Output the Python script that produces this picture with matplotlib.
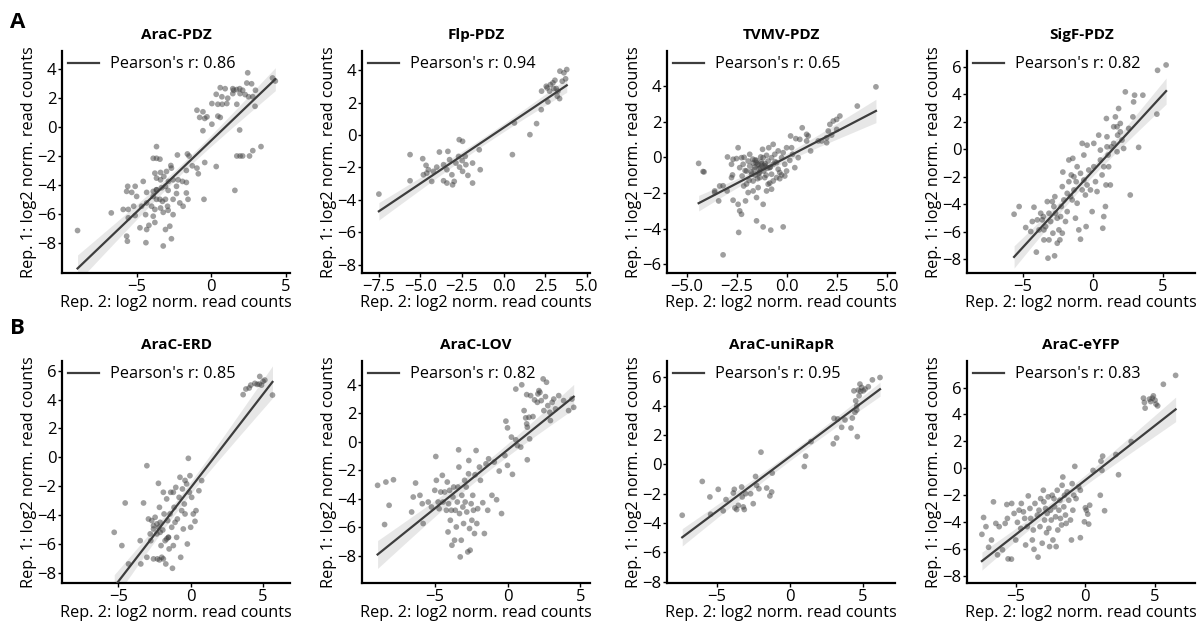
import numpy as np
import matplotlib
matplotlib.use("Agg")
import matplotlib.pyplot as plt

plt.rcParams["font.family"] = ["Open Sans", "DejaVu Sans"]

# replicate 1 vs replicate 2 log2 normalised read counts per library
arac_pdz_x = [4.29, 4.1, 2.44, 2.38, 2.7, 0.6, 0.93, 1.44, 1.5, 1.9, 2.1, 0.33, 0.71, 1.1, 1.44, 1.7,
              1.93, 2.27, 2.5, 2.78, 2.96, 1.04, 0.04, 0.44, 0.73, 1.71, 2.93, -0.96, -0.56, -0.78,
              -0.29, -0.44, 0.44, 0.6, 0.04, -0.56, 1.9, 1.93, 1.71, 2.1, 2.56, 2.78, 3.33, 1.58,
              0.33, -0.44,
              -3.67, -3.89, -3.67, -3.44, -2.27, -1.6, -1.49, -1.27, -0.96, -0.87, -1.67, -2.71,
              -2.67, -3.0, -3.4, -3.78, -3.67, -3.4, -3.18, -2.87, -2.56, -2.22, -1.67, -1.93,
              -4.56, -5.1, -5.6, -5.67, -5.33, -5.0, -4.33, -3.89, -3.67, -3.33, -3.07, -2.89,
              -2.33, -3.89, -3.67, -3.27, -4.33, -4.67, -4.0, -3.78, -3.4, -2.93, -2.56, -2.33,
              -1.67, -1.56, -2.11, -1.89, -2.89, -2.56, -3.22, -3.89, -4.4, -5.1, -5.56, -5.9,
              -5.56, -6.7, -5.2, -4.78, -4.33, -4.18, -3.78, -3.07, -2.78, -2.67, -3.22, -4.38,
              -5.67, -5.62, -8.96, -0.49, -3.67, -3.44, -3.07]
arac_pdz_y = [3.19, 3.4, 3.76, 3.05, 3.0, 2.73, 2.66, 2.66, 2.55, 2.66, 2.55, 2.27, 2.1, 2.0, 2.32, 2.6,
              2.32, 2.25, 2.1, 2.1, 2.55, 1.63, 1.63, 1.58, 1.58, 1.58, 1.44, 1.17, 1.06, 0.67,
              0.71, 0.6, 0.76, 0.67, 0.2, -0.25, -0.2, -2.0, -2.0, -2.0, -2.0, -1.63, -1.35, -4.38,
              -2.73, -2.45,
              -1.35, -2.16, -2.16, -2.22, -1.93, -1.86, -2.0, -2.68, -2.84, -3.23, -3.0, -2.66,
              -2.84, -3.07, -3.14, -3.19, -3.53, -3.65, -3.42, -3.76, -3.65, -3.65, -3.83, -3.76,
              -3.76, -4.1, -4.1, -4.45, -4.52, -4.8, -4.52, -4.45, -4.34, -4.2, -4.1, -4.38,
              -4.1, -4.8, -5.0, -5.14, -5.25, -5.48, -5.48, -5.7, -5.6, -5.48, -5.0, -4.6,
              -4.56, -5.0, -5.25, -5.48, -5.76, -6.06, -5.9, -6.17, -6.06, -6.12, -6.28, -5.7,
              -5.7, -5.94, -5.48, -6.97, -7.09, -6.8, -6.6, -7.09, -6.86, -7.73, -8.23, -8.0,
              -7.55, -7.9, -7.16, -5.0, -4.34, -5.0, -5.0]

flp_pdz_x = [-7.49, -5.62, -5.62, -4.86, -4.66, -4.82, -4.52, -4.62, -4.32, -4.02, -3.86, -3.35, -3.61,
             -3.41, -3.61, -3.41, -3.11, -3.07, -2.97, -2.87, -2.71, -2.67, -2.47, -2.65, -2.47,
             -2.49, -2.31, -2.15, -1.87, -1.87, -1.47, -1.41, -3.25, -4.22, -2.27, 0.52, 0.64, 1.57,
             1.97, 2.25, 2.27, 2.55, 2.65, 2.75, 2.95, 3.07, 3.15, 3.21, 3.35, 3.25, 3.51, 3.61,
             3.78, 3.37, 3.71, 3.0, 2.8, 2.6]
flp_pdz_y = [-3.64, -1.21, -2.82, -1.46, -1.87, -2.45, -2.14, -2.35, -2.86, -1.98, -1.05, -1.01, -1.83,
             -2.14, -2.82, -2.96, -2.45, -3.07, -2.86, -1.73, -1.32, -0.29, -0.39, -1.98, -2.24,
             -1.58, -1.32, -2.49, -1.73, -2.96, -0.91, -2.14, -1.52, -2.24, -1.83, -1.21, 0.74, 0.02,
             0.7, 1.56, 2.7, 3.0, 2.04, 2.7, 3.21, 3.37, 2.86, 2.39, 2.24, 2.7, 3.31, 3.83,
             4.03, 3.93, 3.46, 2.86, 3.1, 2.9]

tvmv_pdz_x = [-4.42, -4.2, -4.15, -3.62, -3.37, -3.2, -2.98, -2.78, -2.73, -2.53, -2.45, -2.28, -2.15,
              -2.37, -2.25, -2.17, -2.03, -1.95, -1.87, -1.78, -1.7, -1.62, -1.53, -1.45, -1.4, -1.32,
              -1.28, -1.2, -1.17, -1.08, -1.03, -0.95, -0.92, -0.87, -0.78, -0.78, -0.7, -0.62, -0.53,
              -0.45, -0.37, -0.28, -0.2, -0.12, -0.03, 0.13, 0.22, 0.27, 0.38, 0.55, 0.17, 0.43, 0.63,
              0.97, 1.05, 0.75, 0.97, 1.17, 1.55, 1.72, 1.97, 2.05, 2.13, 1.97, 2.3, 2.47, 2.63, 2.47,
              2.22, 3.5, 4.43, -3.42, -2.7, -2.45, -2.37, -2.28, -2.08, -1.95, -1.7, -1.53, -1.45,
              -1.2, -1.03, -0.78, -0.7, -0.87, -0.53, -0.37, -0.28, -0.12, -1.53, -1.2, -0.82, -0.2,
              -2.42, -3.2, -2.7, -2.03, -1.7, -1.37, -1.12, -0.95, -1.23, -0.7, -0.45, -0.03, -1.6,
              -1.87, -2.2, -2.78, -3.0, -3.62, -1.5, -1.35, -1.55, -1.65, -1.25, -1.42, -1.1, -1.6,
              -1.3, -1.8, -0.98, -1.15, -1.48, -1.9, -2.1, -0.6, -0.85, -1.72, -1.05, -1.38]
tvmv_pdz_y = [-0.34, -0.8, -0.82, -1.89, -1.61, -1.6, 0.02, -0.39, -0.99, -0.07, 0.54, -0.02, 0.0,
              -0.58, -1.05, -1.61, -1.5, -0.21, -0.49, -0.95, -0.32, -0.55, -0.17, -0.39, -0.64, 0.02,
              -0.36, -0.02, -0.77, -0.49, 0.11, -0.21, 0.54, -0.58, -0.95, -0.02, -0.39, 0.17, -0.3,
              -0.67, -0.86, -0.02, 0.26, -0.39, -0.77, -0.17, 0.54, 0.17, -0.58, -0.02, 1.2, 1.05, 1.01,
              1.29, 1.2, 1.66, 0.92, 0.36, 0.92, 0.92, 1.1, 1.48, 1.85, 0.82, 2.04, 2.13, 2.32, 1.57,
              1.25, 2.88, 3.96, -2.45, -2.41, -2.64, -3.01, -3.2, -2.45, -1.98, -1.89, -2.26, -1.7,
              -2.64, -1.89, -1.79, -1.33, -1.45, -1.14, -1.2, -0.99, -1.05, -3.57, -3.91, -4.09, -3.91,
              -4.22, -5.48, -0.11, -0.77, -1.33, -1.14, -1.14, -1.51, 0.45, 0.73, 0.36, 0.54, -1.0,
              0.17, -0.39, -1.14, -1.89, -1.98, -0.45, -0.6, -0.3, -0.7, -0.5, -0.9, -0.35, -0.15,
              -0.25, -0.8, -0.6, -0.45, -1.2, -1.3, -0.75, -0.25, -0.55, -0.1, -1.0, -0.85]

sigf_pdz_x = [-5.64, -5.28, -4.81, -4.45, -4.22, -4.05, -3.98, -3.86, -3.74, -3.55, -3.39, -3.27, -3.22,
              -3.15, -3.03, -2.91, -2.87, -2.75, -2.73, -2.68, -2.56, -2.44, -2.37, -2.27, -2.2, -2.16,
              -2.09, -1.97, -1.85, -1.73, -1.73, -1.61, -1.56, -1.49, -1.45, -1.37, -1.26, -1.21, -1.14,
              -1.02, -0.9, -0.78, -0.78, -0.66, -0.55, -0.5, -0.43, -0.31, -0.19, -0.07, 0.05, 0.05,
              0.17, 0.28, 0.4, 0.52, 0.64, 0.69, 0.76, 0.88, 0.92, 0.95, 0.99, 1.07, 1.11, 1.23, 1.3,
              1.47, 1.59, 1.71, 1.75, 1.82, 1.94, 2.06, 2.18, 2.3, 2.54, 2.65, 2.84, 2.89, 2.96, 3.25,
              3.55, 4.55, 4.6, 5.21, -3.51, -3.15, -2.8, -2.32, -2.2, -1.85, -1.37, -1.14, -0.9, -0.66,
              -0.43, 0.52, 0.76, 0.99, 1.47, 1.71, 1.94, -3.51, -2.56, -4.34, -3.63]
sigf_pdz_y = [-4.72, -4.16, -5.69, -5.98, -4.21, -7.48, -5.13, -5.86, -4.65, -4.89, -5.62, -3.8, -7.92,
              -6.59, -5.25, -3.8, -6.1, -7.75, -3.44, -4.65, -5.01, -5.86, -6.59, -4.16, -2.71, -1.65,
              -3.68, -5.25, -4.53, -2.35, -0.77, -3.44, -1.86, -3.68, -0.65, -2.95, -5.01, -2.35, -3.92,
              -5.86, -6.54, 0.44, -2.95, -0.41, -3.32, -5.62, 0.31, -1.5, -2.95, -4.53, 0.44, -1.26,
              -2.35, -3.07, 1.04, -0.77, -1.86, -5.74, -4.89, -4.16, -2.59, 2.25, 0.92, -0.41, -1.26,
              -2.59, 0.19, 1.65, 2.37, -0.17, 1.04, 2.98, 1.28, 0.68, 0.07, 4.19, 1.53, -3.32, 2.37,
              3.46, 3.95, 0.15, 3.95, 2.57, 5.76, 6.15, -5.86, -4.65, -4.16, -4.89, -6.1, -3.2, -1.99,
              -1.26, -1.74, -2.23, -2.59, -0.05, -1.26, 0.19, 0.44, 1.65, 1.89, -6.59, -6.83, -5.25,
              -5.13]

arac_erd_x = [3.63, 3.82, 4.05, 4.16, 4.44, 4.74, 4.78, 5.01, 5.13, 5.66, 4.6, 4.9,
              -5.29, -4.76, -4.53, -4.3, -3.45, -3.49, -3.26, -3.03, -2.92, -2.76, -2.57, -2.46, -2.34,
              -2.3, -2.23, -2.16, -2.11, -2.05, -2.0, -1.93, -1.89, -1.84, -1.77, -1.72, -1.66, -1.59,
              -1.54, -1.49, -1.43, -1.38, -1.31, -1.26, -1.2, -1.15, -1.08, -1.03, -0.97, -0.92, -0.8,
              -0.74, -0.69, -0.62, -0.57, -0.51, -0.44, -0.39, -0.28, -0.23, -0.16, -0.05, 0.0, 0.07,
              0.18, 0.3, 0.37, 0.57, 0.76, -0.09, -0.39, -1.2, -2.69, -2.34, -2.21, -2.57, -2.11,
              -1.66, -1.54, -2.8, -2.57, -2.16, -1.89, -3.03]
arac_erd_y = [4.34, 4.73, 4.8, 5.0, 5.12, 5.07, 5.6, 5.26, 5.35, 4.31, 5.05, 5.0,
              -5.19, -6.11, -3.16, -7.38, -7.38, -5.77, -3.16, -0.58, -4.27, -5.77, -4.73, -4.15, -5.3,
              -7.03, -1.8, -3.46, -4.5, -6.11, -6.92, -5.03, -2.42, -3.92, -5.77, -7.38, -2.88, -4.38,
              -5.54, -6.34, -3.92, -2.42, -4.84, -7.68, -6.11, -3.46, -4.5, -2.08, -5.54, -4.27, -2.77,
              -1.38, -6.92, -3.69, -2.19, -4.96, -3.23, -3.92, -1.84, -6.0, -0.07, -1.27, -4.84, -2.77,
              -3.92, -4.43, -3.69, -2.31, -1.61, -2.42, -1.6, -2.42, -4.38, -4.61, -4.84, -4.96, -5.19,
              -5.65, -5.54, -5.3, -7.03, -7.1, -7.03, -6.92]

arac_lov_x = [-8.93, -8.36, -7.84, -8.14, -8.45, -6.59, -6.32, -6.48, -6.02, -5.86, -5.8, -5.45, -5.23,
              -5.0, -4.93, -4.89, -4.77, -4.7, -4.59, -4.48, -4.43, -4.32, -4.2, -4.14, -4.09, -4.05,
              -3.98, -3.93, -3.86, -3.82, -3.75, -3.7, -3.64, -3.59, -3.52, -3.45, -3.41, -3.36, -3.34,
              -3.3, -3.25, -3.18, -3.14, -3.07, -3.02, -2.95, -2.91, -2.84, -2.8, -2.73, -2.68, -2.66,
              -2.61, -2.57, -2.5, -2.45, -2.39, -2.34, -2.27, -2.23, -2.16, -2.11, -2.05, -1.93, -1.86,
              -1.7, -1.59, -1.48, -1.36, -1.3, -1.07, -0.91, -0.75, -0.57, -0.41, -0.18, 0.0, -0.11,
              0.0, 0.27, 0.34, 0.57, 0.68, 0.91, 1.14, 1.25, 1.32, 1.36, 1.36, 1.48, 1.52, 1.59, 1.75,
              1.86, 2.05, 2.09, 2.16, 2.23, 2.32, 2.45, 2.5, 2.61, 2.68, 2.77, 2.91, 2.95, 3.07, 3.18,
              3.3, 3.52, 3.86, 4.2, 4.43, 4.55, 0.98, 0.57, 1.32]
arac_lov_y = [-3.05, -2.82, -2.66, -4.45, -5.8, -4.92, -2.89, -3.87, -3.75, -4.34, -5.73, -4.22, -4.57,
              -3.4, -1.03, -2.7, -4.22, -4.69, -3.52, -2.35, -4.22, -3.52, -4.8, -2.82, -6.32, -4.34,
              -3.4, -5.5, -4.8, -7.25, -3.87, -3.17, -6.9, -4.8, -5.97, -4.22, -3.17, -0.56, -1.77,
              -5.03, -8.07, -6.9, -3.75, -4.57, -5.73, -2.7, -4.22, -3.17, -4.92, -7.72, -2.24, -1.31,
              -6.08, -7.6, -4.34, -5.5, -3.75, -4.8, -6.43, -2.31, -0.61, -5.73, -4.69, -1.77, -2.7,
              -4.27, -6.43, -1.54, -4.8, -1.19, -3.75, -1.42, -4.06, -2.05, -5.03, -0.96, -1.65, 1.45,
              0.98, 0.33, -2.28, 0.14, -0.26, -0.37, 2.19, 1.68, 1.26, 1.03, -1.26, 1.72, 0.21, 3.24,
              1.77, 2.94, 2.77, 3.36, 3.59, 3.47, 2.89, 4.41, 2.19, 3.17, 4.18, 2.54, 2.07, 1.49, 2.77,
              3.0, 2.31, 3.24, 2.89, 2.19, 3.0, 2.42, 4.0, 3.7, 3.31]

arac_unirapr_x = [-7.36, -5.99, -5.47, -5.42, -4.9, -4.56, -4.37, -3.87, -3.8, -3.76, -3.64, -3.53,
                  -3.3, -3.26, -3.19, -3.12, -3.03, -2.69, -2.51, -2.35, -2.28, -2.12, -1.98, -1.59,
                  -1.37, -1.25, -1.21, 0.98, 1.07, 1.44, 2.96, 3.01, 3.19, 3.26, 3.53, 3.76, 4.17, 4.26,
                  4.37, 4.44, 4.49, 4.56, 4.6, 4.67, 4.72, 4.78, 4.83, 4.9, 5.01, 5.13, 5.35, 5.63, 6.15,
                  4.56]
arac_unirapr_y = [-3.47, -1.16, -2.22, -3.4, -1.7, -3.17, -2.4, -1.95, -1.7, -2.97, -3.08, -2.79,
                  -1.54, -2.22, -2.9, -3.08, -2.0, -2.0, -2.68, -0.82, -1.43, -1.66, 0.84, -1.61,
                  -2.15, -1.88, -0.59, -0.14, 0.57, 1.56, 1.41, 3.15, 1.81, 3.11, 2.54, 3.04, 2.49, 3.17,
                  5.03, 3.56, 4.35, 3.72, 1.9, 5.08, 4.69, 5.49, 4.99, 5.26, 5.03, 5.15, 5.31, 5.78, 5.94,
                  4.01]

arac_eyfp_x = [4.17, 4.24, 4.29, 4.6, 4.69, 4.81, 4.88, 5.0, 5.07, 5.19, 5.6, 6.48,
               -7.43, -7.31, -7.14, -6.95, -6.74, -6.6, -6.43, -6.31, -6.19, -5.95, -5.76, -5.64, -5.6,
               -5.55, -5.31, -5.29, -5.12, -5.0, -4.88, -4.76, -4.64, -4.6, -4.45, -4.36, -4.29, -4.17,
               -4.1, -3.98, -3.93, -3.81, -3.74, -3.69, -3.62, -3.45, -3.4, -3.33, -3.26, -3.21, -3.1,
               -3.02, -2.98, -2.93, -2.86, -2.79, -2.74, -2.67, -2.62, -2.57, -2.5, -2.45, -2.38, -2.33,
               -2.26, -2.21, -2.14, -2.1, -2.02, -1.98, -1.9, -1.83, -1.79, -1.71, -1.67, -1.62, -1.55,
               -1.5, -1.43, -1.38, -1.31, -1.19, -1.07, -1.0, -0.95, -0.9, -0.83, -0.76, -0.67, -0.48,
               -0.36, -0.36, -0.07, 0.0, 0.07, 0.17, 0.24, 0.31, 0.55, 1.07, 1.12, 1.19, 1.24, 1.38,
               2.19, 2.38, 3.29]
arac_eyfp_y = [5.21, 4.89, 4.47, 5.14, 4.96, 5.21, 5.38, 5.06, 4.77, 4.64, 6.24, 6.9,
               -4.89, -3.64, -4.32, -5.85, -5.31, -2.48, -4.08, -6.41, -4.32, -6.04, -4.08, -2.68, -3.71,
               -6.71, -6.73, -2.6, -3.34, -5.31, -4.0, -3.1, -4.45, -2.6, -3.22, -3.71, -5.68, -4.32,
               -2.04, -2.97, -3.71, -5.31, -4.57, -6.0, -2.6, -3.46, -6.58, -3.1, -4.32, -2.24, -5.55,
               -1.62, -2.48, -3.83, -2.97, -4.77, -3.34, -2.11, -4.45, -5.8, -3.1, -3.83, -1.99, -5.31,
               -2.24, -2.85, -3.59, -5.8, -1.62, -4.57, -3.1, -2.36, -3.71, -4.2, -1.25, -0.64, -2.85,
               -1.99, -3.46, -4.08, -1.74, -2.36, -3.83, -5.31, -1.13, -3.1, -1.99, 0.15, -2.24, -1.38,
               -1.62, -5.14, -3.96, -2.92, -3.1, -3.39, -4.13, -2.73, -0.15, -1.99, 0.54, -0.15, 0.91,
               -3.14, 1.03, -0.47, 1.99]

titles = ["AraC-PDZ", "Flp-PDZ", "TVMV-PDZ", "SigF-PDZ",
          "AraC-ERD", "AraC-LOV", "AraC-uniRapR", "AraC-eYFP"]
pearson_r = ["0.86", "0.94", "0.65", "0.82", "0.85", "0.82", "0.95", "0.83"]
xs = [arac_pdz_x, flp_pdz_x, tvmv_pdz_x, sigf_pdz_x,
      arac_erd_x, arac_lov_x, arac_unirapr_x, arac_eyfp_x]
ys = [arac_pdz_y, flp_pdz_y, tvmv_pdz_y, sigf_pdz_y,
      arac_erd_y, arac_lov_y, arac_unirapr_y, arac_eyfp_y]

xlims = [(-10.0, 5.3), (-8.5, 5.2), (-6.0, 5.4), (-9.0, 7.3),
         (-8.9, 6.9), (-10.0, 5.7), (-8.4, 7.2), (-8.5, 7.9)]
ylims = [(-10.1, 5.3), (-8.5, 5.2), (-6.5, 6.0), (-9.0, 7.2),
         (-8.7, 6.7), (-9.9, 5.7), (-8.1, 7.1), (-8.5, 8.0)]
xticks = [[-5, 0, 5], [-7.5, -5.0, -2.5, 0.0, 2.5, 5.0], [-5.0, -2.5, 0.0, 2.5, 5.0], [-5, 0, 5],
          [-5, 0, 5], [-5, 0, 5], [-5, 0, 5], [-5, 0, 5]]
yticks = [[-8, -6, -4, -2, 0, 2, 4], [-8, -6, -4, -2, 0, 2, 4], [-6, -4, -2, 0, 2, 4],
          [-8, -6, -4, -2, 0, 2, 4, 6], [-8, -6, -4, -2, 0, 2, 4, 6], [-8, -6, -4, -2, 0, 2, 4],
          [-8, -6, -4, -2, 0, 2, 4, 6], [-8, -6, -4, -2, 0, 2, 4, 6]]

LINE_C = "#3d3d3d"


def regplot(ax, x, y, label):
    x = np.asarray(x, float)
    y = np.asarray(y, float)
    n = len(x)
    b, a = np.polyfit(x, y, 1)
    grid = np.linspace(x.min(), x.max(), 100)
    fit = a + b * grid
    # 95% confidence band of the fitted line
    resid = y - (a + b * x)
    s = np.sqrt(np.sum(resid ** 2) / (n - 2))
    se = s * np.sqrt(1 / n + (grid - x.mean()) ** 2 / np.sum((x - x.mean()) ** 2))
    ax.fill_between(grid, fit - 1.97 * se, fit + 1.97 * se, color=LINE_C, alpha=0.12, lw=0)
    ax.scatter(x, y, s=17, color="#404040", alpha=0.5, edgecolors="none", zorder=2)
    ax.plot(grid, fit, color=LINE_C, lw=1.6, label=label, zorder=3)


fig = plt.figure(figsize=(12.02, 6.24), dpi=100)
lefts = [0.0516, 0.3012, 0.5549, 0.8045]
bottoms = [0.5625, 0.0657]

for i in range(8):
    row, col = divmod(i, 4)
    ax = fig.add_axes([lefts[col], bottoms[row], 0.19, 0.3565])
    regplot(ax, xs[i], ys[i], f"Pearson's r: {pearson_r[i]}")
    ax.set_xlim(*xlims[i])
    ax.set_ylim(*ylims[i])
    ax.set_xticks(xticks[i])
    ax.set_yticks(yticks[i])
    if i in (1, 2):
        ax.set_xticklabels([f"{t:.1f}".replace("-", "\u2212") for t in xticks[i]])
    ax.tick_params(labelsize=12, length=3, width=1, pad=1)
    for side in ("top", "right"):
        ax.spines[side].set_visible(False)
    for side in ("left", "bottom"):
        ax.spines[side].set_linewidth(1.6)
        ax.spines[side].set_color("black")
    ax.set_title(titles[i], fontsize=11, fontweight="bold", pad=8)
    ax.set_xlabel("Rep. 2: log2 norm. read counts", fontsize=11.7, labelpad=0)
    ax.set_ylabel("Rep. 1: log2 norm. read counts", fontsize=11.7, labelpad=0)
    ax.legend(loc="upper left", frameon=False, fontsize=11.7, handlelength=1.9,
              borderaxespad=0.1, borderpad=0.25, handletextpad=0.7)

fig.text(0.008, 0.955, "A", fontsize=16, fontweight="bold")
fig.text(0.008, 0.465, "B", fontsize=16, fontweight="bold")

fig.savefig("out.png", dpi=100)
